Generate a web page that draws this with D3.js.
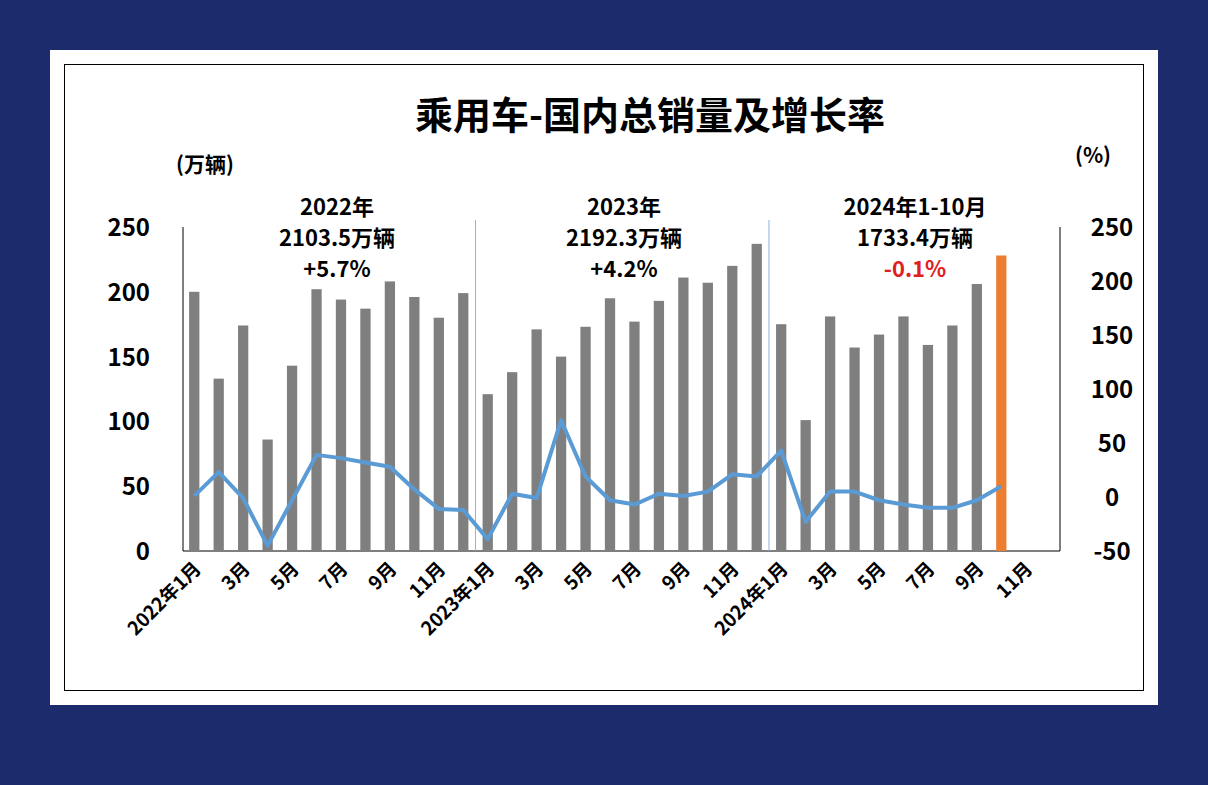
<!DOCTYPE html><html><head><meta charset="utf-8">
<script src="https://cdn.jsdelivr.net/npm/d3@7"></script>
<style>body{margin:0;background:#1b2b6b;}svg{display:block}</style></head><body>
<svg id="c" width="1208" height="785"></svg>
<script>
const months=[];
for(const y of [2022,2023,2024]) for(let m=1;m<=12;m++) months.push(y+"-"+m);
const cats=months.slice(0,35);
const sales=[200,133,174,86,143,202,194,187,208,196,180,199,121,138,171,150,173,195,177,193,211,207,220,237,175,101,181,157,167,181,159,174,206,228];
const growth=[1,23,-1,-45,-3,39,36,32,28,7,-11,-12,-39,3,-1,71,19,-3,-7,3,1,5,21,19,43,-23,5,5,-3,-7,-10,-10,-3,10];
const leftTicks=[0,50,100,150,200,250];
const rightTicks=[-50,0,50,100,150,200,250];
const annotations=[{lines:["2022年","2103.5万辆","+5.7%"],red:false},{lines:["2023年","2192.3万辆","+4.2%"],red:false},{lines:["2024年1-10月","1733.4万辆","-0.1%"],red:true}];

const svg=d3.select("#c");
svg.append("rect").attr("x",50).attr("y",50).attr("width",1108).attr("height",655).attr("fill","#fff");
svg.append("rect").attr("x",64.5).attr("y",64.5).attr("width",1079).attr("height",626).attr("fill","none").attr("stroke","#000");
const font="'Noto Sans CJK SC','Noto Sans',sans-serif";
svg.append("text").attr("x",650).attr("y",129).attr("text-anchor","middle").attr("font-family",font).attr("font-weight","bold").attr("font-size",38).text("乘用车-国内总销量及增长率");
svg.append("text").attr("x",205).attr("y",172).attr("text-anchor","middle").attr("font-family",font).attr("font-weight","bold").attr("font-size",21).text("(万辆)");
svg.append("text").attr("x",1093).attr("y",163).attr("text-anchor","middle").attr("font-family",font).attr("font-weight","bold").attr("font-size",21).text("(%)");

const x=d3.scaleBand().domain(cats).range([183,1037]).paddingInner(0.58).paddingOuter(0.25);
const y=d3.scaleLinear().domain([0,250]).range([551,227]);
const y2=d3.scaleLinear().domain([-50,250]).range([551,227]);
const g=svg.append("g");
g.append("line").attr("x1",183).attr("x2",183).attr("y1",227).attr("y2",551).attr("stroke","#000");
g.append("line").attr("x1",1060).attr("x2",1060).attr("y1",227).attr("y2",551).attr("stroke","#000");
g.append("line").attr("x1",183).attr("x2",1060).attr("y1",551).attr("y2",551).attr("stroke","#000");
[12,24].forEach(i=>{const xx=x(cats[i])-(x.step()-x.bandwidth())/2;g.append("line").attr("x1",xx).attr("x2",xx).attr("y1",220).attr("y2",551).attr("stroke","#8fb3d9");});
leftTicks.forEach(t=>g.append("text").attr("x",150).attr("y",y(t)+9).attr("text-anchor","end").attr("font-family",font).attr("font-weight","bold").attr("font-size",24).text(t));
rightTicks.forEach(t=>g.append("text").attr("x",1112).attr("y",y2(t)+9).attr("text-anchor","middle").attr("font-family",font).attr("font-weight","bold").attr("font-size",24).text(t));
g.selectAll(".bar").data(sales).join("rect").attr("x",(d,i)=>x(cats[i])).attr("width",x.bandwidth()).attr("y",d=>y(d)).attr("height",d=>551-y(d)).attr("fill",(d,i)=>i===sales.length-1?"#ed7d31":"#7f7f7f");
g.append("path").datum(growth).attr("fill","none").attr("stroke","#5b9bd5").attr("stroke-width",4).attr("stroke-linejoin","round")
 .attr("d",d3.line().x((d,i)=>x(cats[i])+x.bandwidth()/2).y(d=>y2(d)));
cats.forEach((c,i)=>{if(i%2)return;const [yy,m]=c.split("-");const lab=(m==="1"?yy+"年":"")+m+"月";
 const cx=x(c)+x.bandwidth()/2;
 g.append("text").attr("transform",`translate(${cx+8},${570}) rotate(-45)`).attr("text-anchor","end").attr("font-family",font).attr("font-weight","bold").attr("font-size",19).text(lab);});
const centers=[337,624,915];
annotations.forEach((a,k)=>a.lines.forEach((l,j)=>g.append("text").attr("x",centers[k]).attr("y",215+j*31).attr("text-anchor","middle").attr("font-family",font).attr("font-weight","bold").attr("font-size",22).attr("fill",a.red&&j===2?"#e02020":"#000").text(l)));
</script></body></html>
